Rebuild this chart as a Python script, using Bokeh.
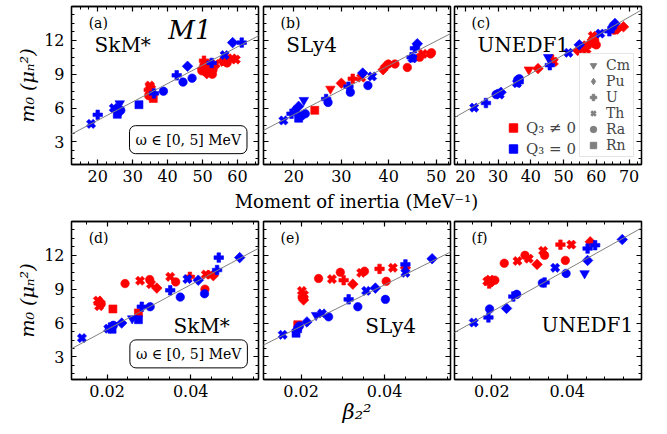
import math
from bokeh.plotting import figure
from bokeh.layouts import row, column
from bokeh.models import (Range1d, LinearAxis, FixedTicker, Label, Slope,
                          Legend, LegendItem, ColumnDataSource)
from bokeh.embed import file_html
from bokeh.resources import INLINE

FONT = "DejaVu Serif"
RED = "#ff0000"
BLUE = "#0000ff"

# ---------------- data (q3: 1 -> Q3 != 0, 0 -> Q3 = 0) ----------------
NUCLEI = ["Cm", "Pu", "U", "Th", "Ra", "Rn"]

# (a) SkM*, moment of inertia
A_x = [18.1, 20.0, 24.6, 25.3, 25.6, 26.3, 26.6, 25.9, 31.8, 36.1, 38.8, 42.6, 44.4, 45.7, 47.0, 52.6, 56.3, 58.6, 61.2,
       34.9, 34.6, 35.0, 35.9, 34.6, 35.3, 34.9, 35.2, 50.4, 50.9, 51.8, 52.8, 53.7, 50.4, 49.9, 51.2, 52.3, 51.0, 49.8, 53.0,
       56.1, 57.6, 59.5, 55.8, 57.0, 58.5]
A_y = [4.6, 5.4, 6.0, 5.9, 5.45, 6.4, 5.8, 5.6, 6.3, 7.3, 7.5, 8.9, 8.3, 9.7, 8.65, 10.0, 10.7, 11.8, 11.8,
       8.0, 7.6, 7.3, 6.85, 7.1, 7.7, 7.85, 7.45, 9.8, 9.2, 9.5, 9.0, 9.9, 10.2, 9.5, 9.05, 9.75, 9.9, 9.3, 9.4,
       10.1, 10.3, 10.3, 10.2, 10.0, 10.4]
A_nuc = ["Th", "U", "Th", "Pu", "Rn", "Cm", "Ra", "Ra", "Rn", "U", "Ra", "U", "Ra", "Pu", "Ra", "U", "Th", "Pu", "U",
         "Th", "U", "Pu", "Rn", "Ra", "Th", "Cm", "Ra", "Ra", "Ra", "Ra", "Ra", "Th", "U", "Pu", "Pu", "Th", "Rn", "Ra", "Ra",
         "Th", "U", "Th", "Pu", "Ra", "Th"]
A_q3 = [0] * 19 + [1] * 26

# (b) SLy4, moment of inertia
B_x = [17.8, 19.5, 20.5, 21.0, 22.1, 21.0, 22.4, 21.6, 27.2, 26.8, 31.9, 31.5, 35.6, 34.5, 36.5, 44.8, 45.5, 46.0, 45.0,
       24.4, 27.7, 30.0, 32.4, 34.2, 38.8, 39.3, 39.9, 41.3, 43.9, 46.5, 47.2, 49.0, 48.8]
B_y = [4.9, 5.5, 5.8, 6.15, 6.7, 5.1, 5.5, 5.3, 6.5, 6.8, 7.4, 7.9, 8.0, 9.1, 8.8, 10.5, 11.3, 11.7, 10.4,
       5.8, 7.7, 8.2, 8.6, 8.7, 9.4, 9.7, 9.9, 9.9, 9.6, 10.5, 10.8, 10.9, 10.8]
B_nuc = ["Th", "U", "Th", "Pu", "Cm", "Rn", "Ra", "Ra", "Ra", "U", "Ra", "U", "Ra", "Pu", "Th", "U", "U", "Pu", "Th",
         "Rn", "Cm", "Pu", "U", "Th", "Pu", "Pu", "Ra", "Ra", "Ra", "Ra", "Th", "Ra", "Ra"]
B_q3 = [0] * 19 + [1] * 14

# (c) UNEDF1, moment of inertia
C_x = [22.7, 26.3, 29.4, 30.1, 30.9, 30.5, 36.0, 36.3, 35.8, 36.5, 45.3, 45.8, 51.5, 54.8, 61.2, 64.0, 65.7, 65.0,
       39.4, 42.2, 47.0, 46.5, 54.3, 55.3, 56.3, 57.0, 58.8, 58.9, 59.5, 57.8, 60.0, 65.5, 66.5, 68.3]
C_y = [6.04, 6.45, 7.2, 7.3, 7.4, 7.2, 8.5, 8.3, 8.2, 8.6, 10.5, 9.8, 10.9, 11.6, 12.6, 12.8, 13.5, 13.2,
       9.4, 9.5, 10.1, 10.3, 11.1, 11.3, 11.5, 11.2, 11.8, 12.4, 12.0, 11.7, 11.6, 12.9, 13.0, 13.2]
C_nuc = ["Th", "U", "Ra", "Ra", "Pu", "Th", "Ra", "U", "Th", "Ra", "Cm", "U", "Th", "Pu", "Th", "U", "Pu", "Ra",
         "Cm", "Pu", "Th", "U", "Pu", "Ra", "Pu", "Th", "Pu", "Th", "Ra", "U", "Ra", "Ra", "Pu", "Pu"]
C_q3 = [0] * 18 + [1] * 16

# (d) SkM*, beta_2^2
D_x = [0.0140, 0.0203, 0.0212, 0.0215, 0.0207, 0.0235, 0.0260, 0.0275, 0.0283, 0.0303, 0.0351, 0.0375, 0.0392, 0.0418,
       0.0433, 0.0463, 0.0467, 0.0517,
       0.0178, 0.0180, 0.0183, 0.0181, 0.0186, 0.0214, 0.0275, 0.0243, 0.0279, 0.0302, 0.0305, 0.0319, 0.0351, 0.0364,
       0.0398, 0.0436, 0.0434, 0.0448, 0.0454]
D_y = [4.67, 5.5, 5.45, 5.8, 5.6, 6.0, 6.4, 6.3, 7.45, 7.45, 8.9, 8.3, 9.9, 9.8, 8.6, 10.7, 11.8, 11.8,
       8.0, 7.75, 7.9, 7.5, 7.7, 7.25, 6.9, 9.5, 9.75, 9.85, 9.45, 9.1, 10.1, 9.65, 10.1, 10.3, 9.0, 10.3, 10.2]
D_nuc = ["Th", "Th", "Rn", "Ra", "U", "Pu", "Cm", "Rn", "U", "Ra", "U", "Ra", "Th", "Pu", "Ra", "U", "U", "Pu",
         "Th", "U", "Pu", "Th", "Ra", "Rn", "Rn", "Ra", "Th", "Ra", "Th", "Pu", "Th", "Ra", "U", "Th", "Ra", "Th", "Pu"]
D_q3 = [0] * 18 + [1] * 19

# (e) SLy4, beta_2^2
E_x = [0.0156, 0.0188, 0.0192, 0.0196, 0.0190, 0.0214, 0.0236, 0.0250, 0.0266, 0.0314, 0.0336, 0.0356, 0.0378, 0.0402,
       0.0450, 0.0450, 0.0514,
       0.0202, 0.0207, 0.0206, 0.0204, 0.0192, 0.0242, 0.0274, 0.0294, 0.0302, 0.0324, 0.0344, 0.0352, 0.0388, 0.0420,
       0.0404, 0.0450]
E_y = [4.96, 5.1, 5.55, 5.75, 5.3, 6.1, 6.7, 6.85, 6.55, 8.1, 7.45, 8.85, 9.1, 8.1, 11.2, 10.45, 11.7,
       8.85, 8.5, 8.05, 8.3, 5.85, 9.95, 9.9, 10.5, 9.8, 9.45, 10.45, 10.6, 10.8, 10.9, 9.7, 10.9]
E_nuc = ["Th", "Rn", "Ra", "Ra", "U", "Pu", "Cm", "Th", "Ra", "U", "Ra", "Th", "Pu", "Ra", "U", "Th", "Pu",
         "Th", "Th", "Pu", "U", "Rn", "Ra", "Th", "Ra", "U", "Pu", "Th", "Ra", "U", "Th", "Ra", "Pu"]
E_q3 = [0] * 17 + [1] * 16

# (f) UNEDF1, beta_2^2
F_x = [0.0152, 0.0191, 0.0194, 0.0239, 0.0257, 0.0266, 0.0334, 0.0340, 0.0368, 0.0397, 0.0446, 0.0454, 0.0454, 0.0474,
       0.0546,
       0.0195, 0.0200, 0.0193, 0.0208, 0.0188, 0.0233, 0.0268, 0.0288, 0.0298, 0.0320, 0.0336, 0.0340, 0.0395, 0.0382,
       0.0411, 0.0461]
F_y = [6.05, 6.5, 7.25, 7.3, 8.35, 8.55, 9.55, 9.6, 10.9, 10.4, 10.4, 11.55, 12.6, 12.9, 13.4,
       9.85, 9.65, 9.5, 9.8, 9.7, 11.3, 11.5, 12.0, 11.7, 11.2, 12.4, 12.0, 11.55, 12.95, 12.95, 13.2]
F_nuc = ["Th", "U", "Ra", "Pu", "U", "Ra", "Ra", "U", "Th", "Ra", "Cm", "Pu", "U", "U", "Pu",
         "Th", "Pu", "U", "Ra", "Th", "Ra", "Th", "Ra", "Th", "Pu", "Th", "Ra", "Ra", "U", "Th", "Pu"]
F_q3 = [0] * 15 + [1] * 16

# linear trend lines (gradient, intercept) for panels a..f
FIT_GRADIENT = [0.1628, 0.2175, 0.167, 199.0, 184.0, 186.7]
FIT_INTERCEPT = [1.66, 1.07, 2.37, 1.44, 2.03, 3.28]

# tick positions
Y_MAJ = [3, 6, 9, 12]
Y_MIN = [0.75 * v for v in range(1, 21)]
TOP_MAJ = [20, 30, 40, 50, 60, 70]
TOP_MIN = [2.5 * v for v in range(4, 32)]
BOT_MAJ = [0.02, 0.04]
BOT_MIN = [0.005 * v for v in range(1, 13)]

# ---------------- styling ----------------
MARK = {  # marker, angle, size
    "Cm": ("inverted_triangle", 0.0, 9.5),
    "Pu": ("square", math.pi / 4, 7.5),
    "U": ("plus", 0.0, 9.5),
    "Th": ("plus", math.pi / 4, 9.5),
    "Ra": ("circle", 0.0, 8.5),
    "Rn": ("square", 0.0, 8.0),
}
# legend swatches (legend glyphs ignore marker angle)
LEG_MARK = {
    "Cm": ("inverted_triangle", 0),
    "Pu": ("diamond", 0),
    "U": ("plus", 0),
    "Th": ("x", 2.6),
    "Ra": ("circle", 0),
    "Rn": ("square", 0),
}

FW, FH = 187, 158
NAN = float("nan")


def style_axis(ax, labels=True):
    ax.major_tick_in = 5
    ax.major_tick_out = 0
    ax.minor_tick_in = 3
    ax.minor_tick_out = 0
    ax.major_tick_line_color = "black"
    ax.minor_tick_line_color = "black"
    ax.major_tick_line_width = 1.2
    ax.minor_tick_line_width = 1
    ax.axis_line_color = "black"
    ax.axis_line_width = 1.3
    ax.major_label_text_font = FONT
    ax.major_label_text_color = "black"
    ax.axis_label_text_font = FONT
    ax.axis_label_text_font_style = "normal"
    ax.axis_label_text_color = "black"
    if labels:
        ax.major_label_text_font_size = "16px"
    else:
        ax.major_label_text_font_size = "1px"
        ax.major_label_text_color = None
        ax.major_label_standoff = 0
        ax.axis_label_standoff = 0


def make_panel(xr, xmaj, xmin, ml, mr, mt, mb, ylabels, xs, ys, nucs, q3s, k):
    p = figure(frame_width=FW, frame_height=FH, x_range=Range1d(*xr), y_range=Range1d(1, 15),
               output_backend="svg", toolbar_location=None,
               min_border_left=ml, min_border_right=mr, min_border_top=mt, min_border_bottom=mb)
    p.xgrid.visible = False
    p.ygrid.visible = False
    p.outline_line_color = "black"
    p.outline_line_width = 1.3
    p.background_fill_color = "white"
    p.border_fill_color = "white"

    bottom = p.below[0]
    left = p.left[0]
    bottom.ticker = FixedTicker(ticks=xmaj, minor_ticks=xmin)
    left.ticker = FixedTicker(ticks=Y_MAJ, minor_ticks=Y_MIN)
    style_axis(bottom, True)
    bottom.major_label_standoff = 5
    bottom.axis_label_standoff = 2
    style_axis(left, ylabels)
    if ylabels:
        left.major_label_standoff = 7
        left.axis_label_standoff = 3
        left.axis_label = "m₀ (μₙ²)"
        left.axis_label_text_font_size = "19px"
        left.axis_label_text_font_style = "italic"
    top = LinearAxis(ticker=FixedTicker(ticks=xmaj, minor_ticks=xmin))
    style_axis(top, False)
    p.add_layout(top, "above")
    right = LinearAxis(ticker=FixedTicker(ticks=Y_MAJ, minor_ticks=Y_MIN))
    style_axis(right, False)
    p.add_layout(right, "right")

    p.add_layout(Slope(gradient=FIT_GRADIENT[k], y_intercept=FIT_INTERCEPT[k],
                       line_color="gray", line_width=1))

    for q, color in ((1, RED), (0, BLUE)):
        idx = [i for i in range(len(xs)) if q3s[i] == q]
        src = ColumnDataSource(dict(
            x=[xs[i] for i in idx], y=[ys[i] for i in idx],
            marker=[MARK[nucs[i]][0] for i in idx],
            angle=[MARK[nucs[i]][1] for i in idx],
            size=[MARK[nucs[i]][2] for i in idx]))
        p.scatter("x", "y", source=src, marker="marker", angle="angle", size="size",
                  fill_color=color, line_color=color, line_width=0.6)
    return p


def add_text(p, x, y, text, size, style="normal", align="left"):
    p.add_layout(Label(x=x, y=y, text=text, text_font=FONT, text_font_size=size,
                       text_font_style=style, text_align=align, text_baseline="middle",
                       text_color="black"))


def add_box(p, x, y):
    p.add_layout(Label(x=x, y=y, text="ω ∈ [0, 5] MeV", text_font=FONT, text_font_size="14px",
                       text_align="center", text_baseline="middle", text_color="black",
                       border_line_color="black", border_line_width=1,
                       background_fill_color="white", padding=6, border_radius=6))


pa = make_panel((12.5, 66.0), TOP_MAJ, TOP_MIN, 71, 2, 6, 26, True, A_x, A_y, A_nuc, A_q3, 0)
pb = make_panel((13.6, 53.0), TOP_MAJ, TOP_MIN, 3, 2, 6, 26, False, B_x, B_y, B_nuc, B_q3, 1)
pc = make_panel((16.7, 73.8), TOP_MAJ, TOP_MIN, 2, 27, 6, 26, False, C_x, C_y, C_nuc, C_q3, 2)
pd = make_panel((0.0115, 0.0562), BOT_MAJ, BOT_MIN, 71, 2, 10, 55, True, D_x, D_y, D_nuc, D_q3, 3)
pe = make_panel((0.0110, 0.0558), BOT_MAJ, BOT_MIN, 3, 2, 10, 55, False, E_x, E_y, E_nuc, E_q3, 4)
pf = make_panel((0.0101, 0.0597), BOT_MAJ, BOT_MIN, 2, 27, 10, 55, False, F_x, F_y, F_nuc, F_q3, 5)

pe.below[0].axis_label = "β₂²"
pe.below[0].axis_label_text_font_size = "21px"
pe.below[0].axis_label_text_font_style = "italic"
pe.below[0].axis_label_standoff = 0

# shared x-axis title of the upper row (spans several panels)
title_row = figure(width=667, height=21, x_range=Range1d(0, 667), y_range=Range1d(0, 21),
                   output_backend="svg", toolbar_location=None, min_border=0,
                   x_axis_location=None, y_axis_location=None)
title_row.grid.visible = False
title_row.outline_line_color = None
title_row.add_layout(Label(x=356, y=10, text="Moment of inertia (MeV⁻¹)", text_font=FONT,
                           text_font_size="18px", text_align="center", text_baseline="middle",
                           text_color="black"))

# panel annotations
add_text(pa, 17.4, 13.5, "(a)", "14px")
add_text(pa, 19.1, 11.55, "SkM*", "20px")
add_text(pa, 40.2, 12.9, "M1", "26px", style="italic")
add_box(pa, 45.9, 3.2)
add_text(pb, 17.2, 13.5, "(b)", "14px")
add_text(pb, 18.4, 11.55, "SLy4", "20px")
add_text(pc, 21.9, 13.5, "(c)", "14px")
add_text(pc, 23.7, 11.55, "UNEDF1", "20px")
add_text(pd, 0.0156, 13.5, "(d)", "14px")
add_text(pd, 0.0359, 5.7, "SkM*", "20px")
add_box(pd, 0.0395, 3.27)
add_text(pe, 0.0151, 13.5, "(e)", "14px")
add_text(pe, 0.0354, 5.7, "SLy4", "20px")
add_text(pf, 0.0146, 13.5, "(f)", "14px")
add_text(pf, 0.0332, 5.8, "UNEDF1", "20px")

# legends in panel (c)
items = []
for nuc in NUCLEI:
    mk, lw = LEG_MARK[nuc]
    r = pc.scatter(x=[NAN], y=[NAN], marker=mk, size=8, fill_color="gray", line_color="gray",
                   line_width=lw if lw else 1)
    items.append(LegendItem(label=nuc, renderers=[r]))
leg = Legend(items=items, location="bottom_right", margin=7, padding=3, spacing=0,
             glyph_width=20, glyph_height=16, label_height=16, label_standoff=3,
             label_text_font=FONT, label_text_font_size="14px",
             border_line_color="#cccccc", border_line_width=1,
             background_fill_color="white", background_fill_alpha=0.8)
pc.add_layout(leg)

q_items = []
for lab, col in (("Q₃ ≠ 0", RED), ("Q₃ = 0", BLUE)):
    r = pc.scatter(x=[NAN], y=[NAN], marker="square", size=9, fill_color=col, line_color=col)
    q_items.append(LegendItem(label=lab, renderers=[r]))
qleg = Legend(items=q_items, location=(48, 5), padding=0, spacing=0,
              glyph_width=22, glyph_height=21, label_height=21, label_standoff=2,
              label_text_font=FONT, label_text_font_size="15px",
              border_line_alpha=0, background_fill_alpha=0)
pc.add_layout(qleg)

layout = column(row(pa, pb, pc), title_row, row(pd, pe, pf))

open("out.html", "w").write(file_html(layout, INLINE))
